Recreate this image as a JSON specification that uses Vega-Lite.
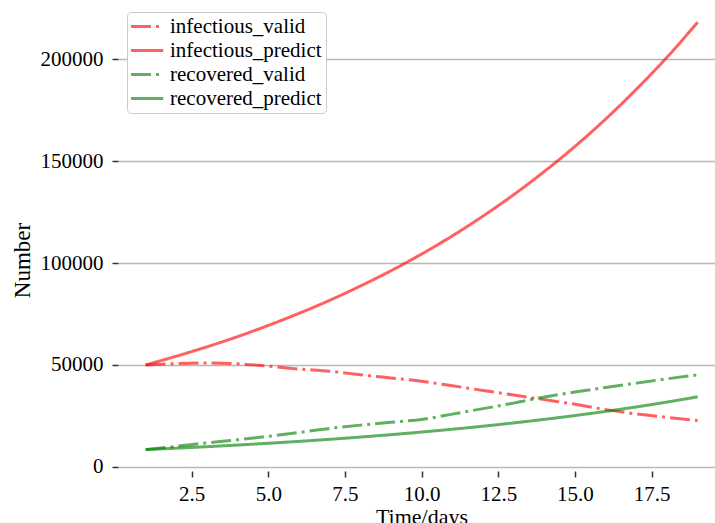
{
  "$schema": "https://vega.github.io/schema/vega-lite/v6.json",
  "autosize": {"type": "none"},
  "width": 597,
  "height": 470,
  "padding": {"left": 118, "top": 1, "right": 0, "bottom": 52},
  "background": "white",
  "config": {
    "view": {"stroke": null},
    "font": "Liberation Serif"
  },
  "data": {
    "values": [
      {"t": 1, "series": "infectious_valid", "value": 50000},
      {"t": 2, "series": "infectious_valid", "value": 50700},
      {"t": 3, "series": "infectious_valid", "value": 51000},
      {"t": 4, "series": "infectious_valid", "value": 50600},
      {"t": 5, "series": "infectious_valid", "value": 49400},
      {"t": 6, "series": "infectious_valid", "value": 48000},
      {"t": 7, "series": "infectious_valid", "value": 46900},
      {"t": 8, "series": "infectious_valid", "value": 45200},
      {"t": 9, "series": "infectious_valid", "value": 43600},
      {"t": 10, "series": "infectious_valid", "value": 42000},
      {"t": 11, "series": "infectious_valid", "value": 39800},
      {"t": 12, "series": "infectious_valid", "value": 37500},
      {"t": 13, "series": "infectious_valid", "value": 35300},
      {"t": 14, "series": "infectious_valid", "value": 33000},
      {"t": 15, "series": "infectious_valid", "value": 30700},
      {"t": 16, "series": "infectious_valid", "value": 28100},
      {"t": 17, "series": "infectious_valid", "value": 26000},
      {"t": 18, "series": "infectious_valid", "value": 24300},
      {"t": 19, "series": "infectious_valid", "value": 22800},
      {"t": 1, "series": "infectious_predict", "value": 50000},
      {"t": 2, "series": "infectious_predict", "value": 54300},
      {"t": 3, "series": "infectious_predict", "value": 58900},
      {"t": 4, "series": "infectious_predict", "value": 63900},
      {"t": 5, "series": "infectious_predict", "value": 69400},
      {"t": 6, "series": "infectious_predict", "value": 75300},
      {"t": 7, "series": "infectious_predict", "value": 81700},
      {"t": 8, "series": "infectious_predict", "value": 88700},
      {"t": 9, "series": "infectious_predict", "value": 96200},
      {"t": 10, "series": "infectious_predict", "value": 104400},
      {"t": 11, "series": "infectious_predict", "value": 113300},
      {"t": 12, "series": "infectious_predict", "value": 123000},
      {"t": 13, "series": "infectious_predict", "value": 133500},
      {"t": 14, "series": "infectious_predict", "value": 144900},
      {"t": 15, "series": "infectious_predict", "value": 157200},
      {"t": 16, "series": "infectious_predict", "value": 170600},
      {"t": 17, "series": "infectious_predict", "value": 185200},
      {"t": 18, "series": "infectious_predict", "value": 200900},
      {"t": 19, "series": "infectious_predict", "value": 218100},
      {"t": 1, "series": "recovered_valid", "value": 8500},
      {"t": 2, "series": "recovered_valid", "value": 10100},
      {"t": 3, "series": "recovered_valid", "value": 11800},
      {"t": 4, "series": "recovered_valid", "value": 13300},
      {"t": 5, "series": "recovered_valid", "value": 15000},
      {"t": 6, "series": "recovered_valid", "value": 16900},
      {"t": 7, "series": "recovered_valid", "value": 18900},
      {"t": 8, "series": "recovered_valid", "value": 20500},
      {"t": 9, "series": "recovered_valid", "value": 21900},
      {"t": 10, "series": "recovered_valid", "value": 23300},
      {"t": 11, "series": "recovered_valid", "value": 25900},
      {"t": 12, "series": "recovered_valid", "value": 28600},
      {"t": 13, "series": "recovered_valid", "value": 31300},
      {"t": 14, "series": "recovered_valid", "value": 34300},
      {"t": 15, "series": "recovered_valid", "value": 36700},
      {"t": 16, "series": "recovered_valid", "value": 39000},
      {"t": 17, "series": "recovered_valid", "value": 41100},
      {"t": 18, "series": "recovered_valid", "value": 43200},
      {"t": 19, "series": "recovered_valid", "value": 45100},
      {"t": 1, "series": "recovered_predict", "value": 8500},
      {"t": 2, "series": "recovered_predict", "value": 9190},
      {"t": 3, "series": "recovered_predict", "value": 9930},
      {"t": 4, "series": "recovered_predict", "value": 10730},
      {"t": 5, "series": "recovered_predict", "value": 11600},
      {"t": 6, "series": "recovered_predict", "value": 12530},
      {"t": 7, "series": "recovered_predict", "value": 13540},
      {"t": 8, "series": "recovered_predict", "value": 14640},
      {"t": 9, "series": "recovered_predict", "value": 15820},
      {"t": 10, "series": "recovered_predict", "value": 17100},
      {"t": 11, "series": "recovered_predict", "value": 18480},
      {"t": 12, "series": "recovered_predict", "value": 19970},
      {"t": 13, "series": "recovered_predict", "value": 21580},
      {"t": 14, "series": "recovered_predict", "value": 23320},
      {"t": 15, "series": "recovered_predict", "value": 25200},
      {"t": 16, "series": "recovered_predict", "value": 27240},
      {"t": 17, "series": "recovered_predict", "value": 29440},
      {"t": 18, "series": "recovered_predict", "value": 31810},
      {"t": 19, "series": "recovered_predict", "value": 34380}
    ]
  },
  "mark": {"type": "line", "strokeWidth": 3, "opacity": 0.62, "interpolate": "monotone"},
  "encoding": {
    "x": {
      "field": "t",
      "type": "quantitative",
      "scale": {"domain": [0.1, 19.565], "nice": false, "zero": false},
      "axis": {
        "values": [2.5, 5, 7.5, 10, 12.5, 15, 17.5],
        "format": ".1f",
        "grid": false,
        "domain": false,
        "tickSize": 6,
        "tickColor": "#333333",
        "tickWidth": 1.5,
        "labelFont": "Liberation Serif",
        "labelFontSize": 21,
        "labelColor": "black",
        "labelPadding": 6,
        "title": "Time/days",
        "titleFont": "Liberation Serif",
        "titleFontSize": 22,
        "titleFontWeight": "normal",
        "titleColor": "black",
        "titleX": 303.5,
        "titleY": 35,
        "titleAlign": "center",
        "titleBaseline": "top"
      }
    },
    "y": {
      "field": "value",
      "type": "quantitative",
      "scale": {"domain": [-2000, 228500], "nice": false, "zero": false},
      "axis": {
        "values": [0, 50000, 100000, 150000, 200000],
        "format": "d",
        "grid": true,
        "gridColor": "#b8b8b8",
        "gridWidth": 1.5,
        "domain": false,
        "tickSize": 6,
        "tickColor": "#333333",
        "tickWidth": 1.5,
        "labelFont": "Liberation Serif",
        "labelFontSize": 21,
        "labelColor": "black",
        "labelPadding": 9,
        "title": "Number",
        "titleFont": "Liberation Serif",
        "titleFontSize": 23,
        "titleFontWeight": "normal",
        "titleColor": "black",
        "titleX": -96,
        "titleY": 259,
        "titleAngle": 270,
        "titleAlign": "center",
        "titleBaseline": "middle"
      }
    },
    "color": {
      "field": "series",
      "type": "nominal",
      "scale": {
        "domain": ["infectious_valid", "infectious_predict", "recovered_valid", "recovered_predict"],
        "range": ["#ff0000", "#ff0000", "#008000", "#008000"]
      },
      "legend": {
        "orient": "none",
        "legendX": 9,
        "legendY": 11,
        "title": null,
        "symbolType": "M-1.5,0H3.1",
        "symbolSize": 196,
        "symbolStrokeWidth": 3,
        "symbolOpacity": 0.62,
        "labelFont": "Liberation Serif",
        "labelFontSize": 21,
        "labelColor": "black",
        "labelLimit": 400,
        "labelOffset": 18,
        "strokeColor": "#cccccc",
        "fillColor": "white",
        "cornerRadius": 4,
        "padding": 4,
        "rowPadding": 2
      }
    },
    "strokeDash": {
      "field": "series",
      "type": "nominal",
      "scale": {
        "domain": ["infectious_valid", "infectious_predict", "recovered_valid", "recovered_predict"],
        "range": [[20, 5, 3, 5], [1, 0], [20, 5, 3, 5], [1, 0]]
      },
      "legend": {
        "orient": "none",
        "legendX": 9,
        "legendY": 11,
        "title": null,
        "symbolType": "M-1.5,0H3.1",
        "symbolSize": 196,
        "symbolStrokeWidth": 3,
        "symbolOpacity": 0.62,
        "labelFont": "Liberation Serif",
        "labelFontSize": 21,
        "labelColor": "black",
        "labelLimit": 400,
        "labelOffset": 18,
        "strokeColor": "#cccccc",
        "fillColor": "white",
        "cornerRadius": 4,
        "padding": 4,
        "rowPadding": 2
      }
    }
  }
}
